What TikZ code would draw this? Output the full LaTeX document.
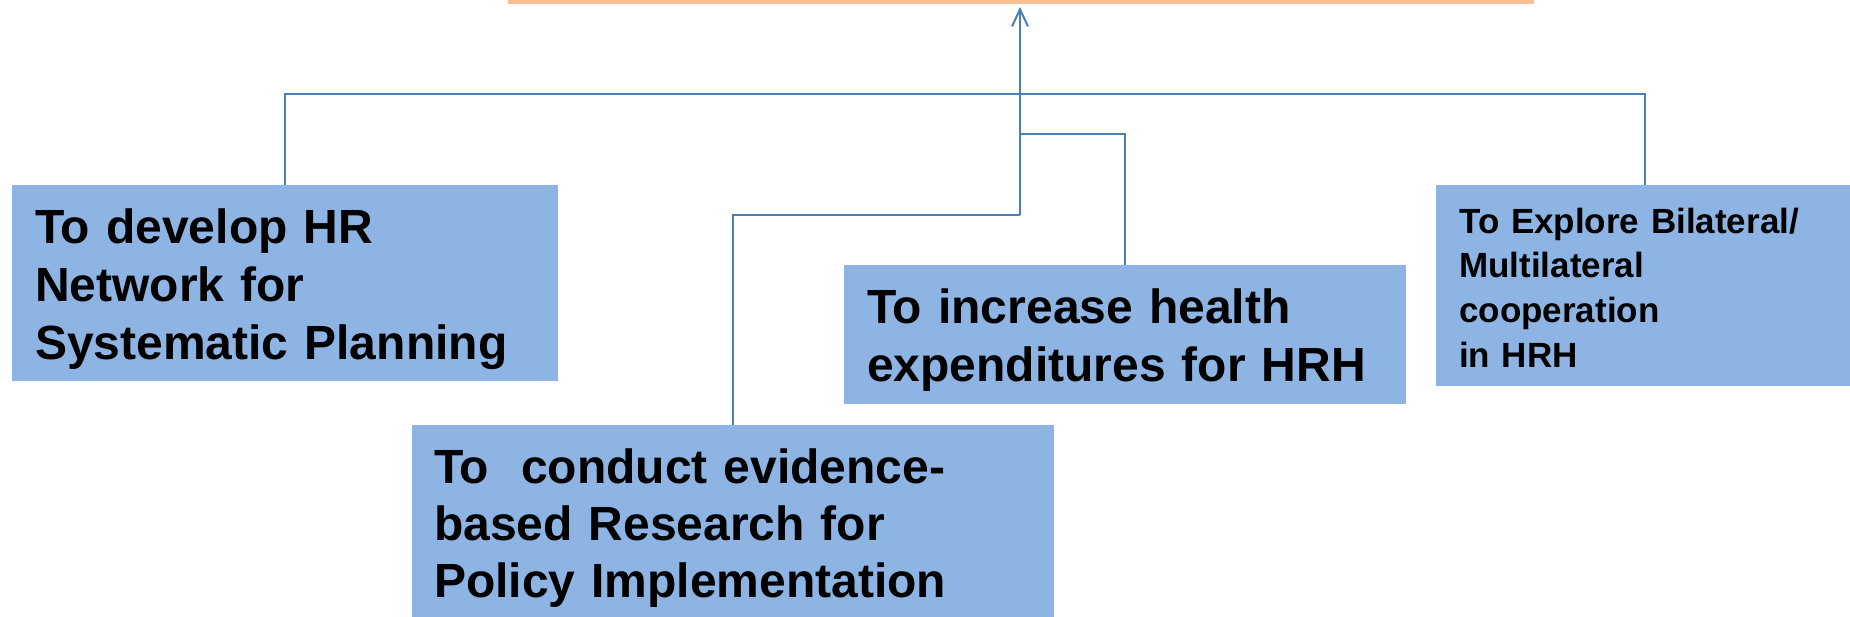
\documentclass[tikz,border=0pt]{standalone}
\usepackage{fontspec}
\setmainfont{Liberation Sans}
\usetikzlibrary{arrows.meta}
\definecolor{boxblue}{HTML}{8EB4E3}
\definecolor{linkblue}{HTML}{4A7EBB}
\definecolor{goalorange}{HTML}{FAC090}
\tikzset{
  objbox/.style={fill=boxblue, draw=none, anchor=north west, inner ysep=0pt,
    inner xsep=23pt, align=left, font=\bfseries\fontsize{48}{58}\selectfont},
  conn/.style={draw=linkblue, line width=2pt},
}
\begin{document}
\begin{tikzpicture}[x=1pt,y=-1pt]
\clip (0,0) rectangle (1850,617);
\fill[white] (0,0) rectangle (1850,617);
% goal bar (cut off at top)
\node[fill=goalorange, draw=none, anchor=south west, minimum width=1026pt, minimum height=60pt, inner sep=0pt] (goal) at (508,4) {};
% objective boxes
\node[objbox, minimum width=546pt, text width=500pt, text height=58pt, text depth=138pt] (b1) at (12,185)
  {To develop HR\\Network for\\Systematic Planning};
\node[objbox, minimum width=642pt, text width=598pt, inner xsep=22pt, text height=58pt, text depth=157pt,
  font=\bfseries\fontsize{48}{57}\selectfont] (b2) at (412,425)
  {To~~conduct evidence-\\based Research for\\Policy Implementation};
\node[objbox, minimum width=562pt, text width=516pt, text height=58pt, text depth=81pt] (b3) at (844,265)
  {To increase health\\expenditures for HRH};
\node[objbox, minimum width=418pt, text width=372pt, text height=48pt, text depth=153pt,
  font=\bfseries\fontsize{35}{44.7}\selectfont] (b4) at (1436,185)
  {To Explore Bilateral/\\Multilateral\\cooperation\\in HRH};
% junctions on the spine
\coordinate (hub) at (1020,94);
\coordinate (j3) at (1020,134);
\coordinate (j2) at (1020,215);
\coordinate (top) at (1020,7);
% connectors
\draw[conn] (b1.north) |- (hub) -| (b4.north);
\draw[conn] (b2.north) |- (j2);
\draw[conn] (b3.north) |- (j3);
\draw[conn, -{Straight Barb[length=17pt,width=16pt,line width=2pt]}] (j2) -- (top);
\end{tikzpicture}
\end{document}
